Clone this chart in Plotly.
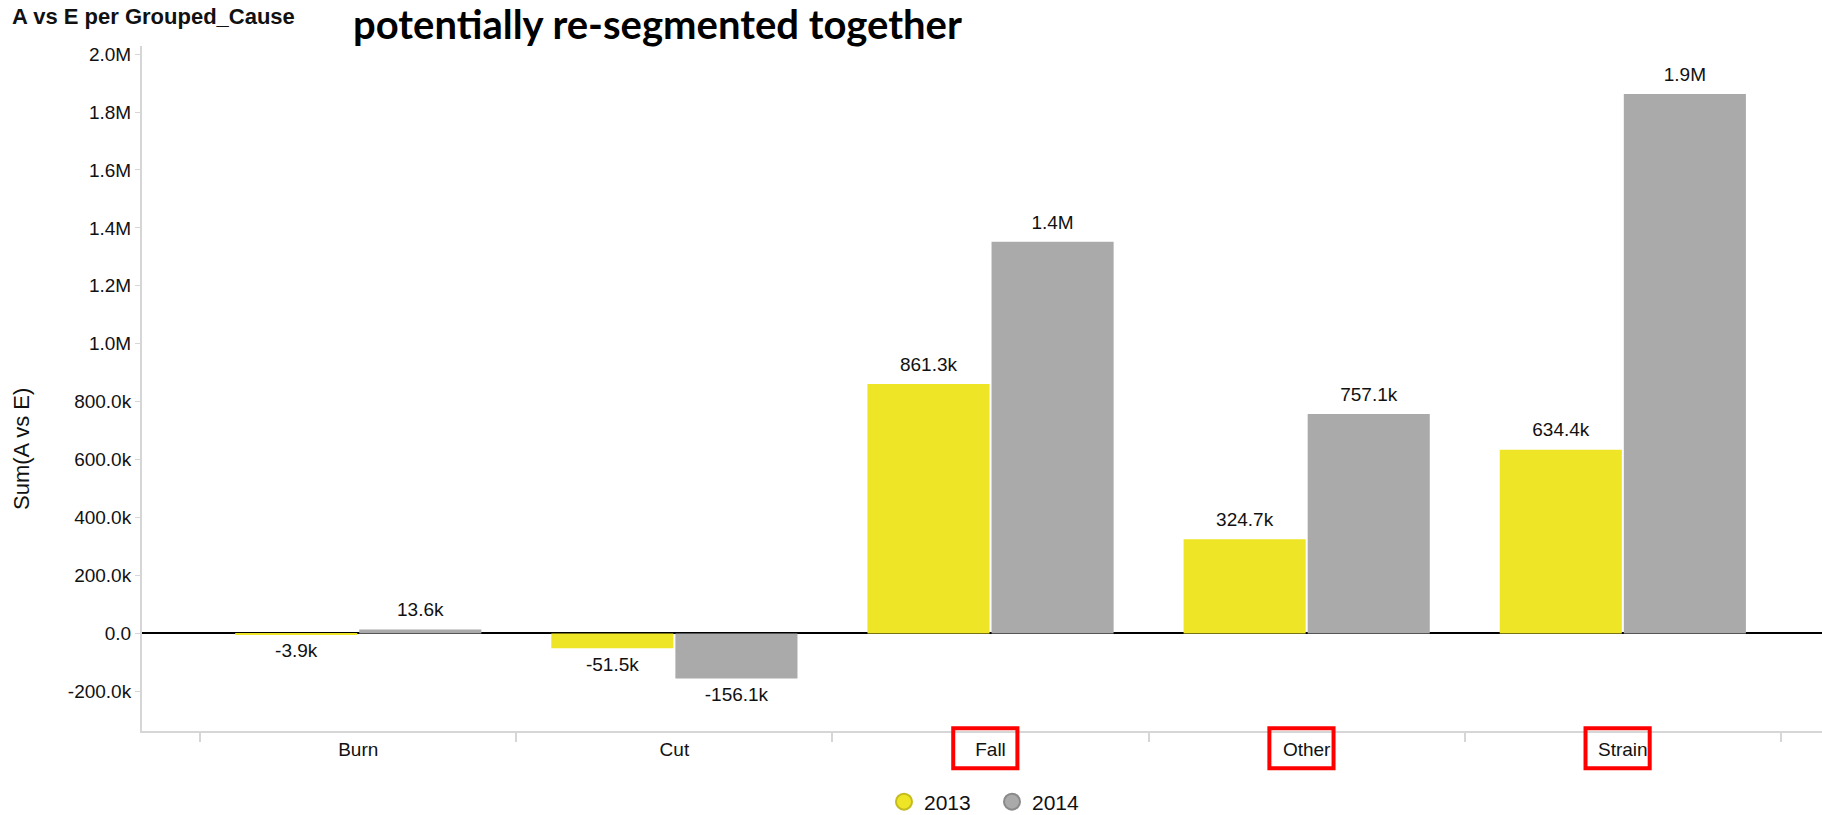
import plotly.graph_objects as go

# Sum of A vs E by grouped cause, per year
causes = ["Burn", "Cut", "Fall", "Other", "Strain"]
values_2013 = [-3_900, -51_500, 861_300, 324_700, 634_400]
values_2014 = [13_600, -156_100, 1_352_000, 757_100, 1_862_000]
highlighted = ["Fall", "Other", "Strain"]

y_tick_vals = [-200_000, 0, 200_000, 400_000, 600_000, 800_000, 1_000_000,
               1_200_000, 1_400_000, 1_600_000, 1_800_000, 2_000_000]

YELLOW = "#ede526"
GREY = "#aaaaaa"
FONT = "Liberation Sans, Arial, sans-serif"
GAP = 0.215


def short(v):
    if abs(v) >= 1_000_000:
        return f"{v / 1_000_000:.1f}M"
    if v == 0:
        return "0.0"
    return f"{v / 1_000:.1f}k"


fig = go.Figure()

series = [("2013", values_2013, YELLOW, "#c4bc1e"), ("2014", values_2014, GREY, "#8a8a8a")]

for name, vals, colour, edge in series:
    fig.add_trace(go.Bar(
        x=causes, y=vals, name=name, offsetgroup=name,
        marker=dict(color=colour, line=dict(width=0)),
        showlegend=False, hoverinfo="x+y",
    ))

# value labels, grouped the same way as the bars, offset by an invisible marker
for name, vals, colour, edge in series:
    fig.add_trace(go.Scatter(
        x=causes, y=vals, mode="markers+text", name=name,
        offsetgroup=name, legendgroup=name,
        marker=dict(size=12, opacity=0),
        text=[short(v) for v in vals],
        textposition=["top center" if v >= 0 else "bottom center" for v in vals],
        textfont=dict(family=FONT, size=19, color="#111111"),
        cliponaxis=False, showlegend=False, hoverinfo="skip",
    ))

# round legend swatches
for name, vals, colour, edge in series:
    fig.add_trace(go.Scatter(
        x=[None], y=[None], mode="markers", name=name,
        offsetgroup=name, legendgroup=name,
        marker=dict(symbol="circle", size=16, color=colour,
                    line=dict(color=edge, width=2)),
    ))

# red boxes around selected category labels
for c in highlighted:
    i = causes.index(c)
    fig.add_shape(type="rect", xref="x", yref="paper",
                  x0=i - 0.118, x1=i + 0.085, y0=0.004, y1=-0.0545,
                  line=dict(color="#ff0000", width=4))

fig.add_annotation(text="<b>A vs E per Grouped_Cause</b>", xref="paper", yref="paper",
                   x=(10 - 142) / 1680, y=(731 - 17) / 685, xanchor="left", yanchor="middle",
                   showarrow=False, font=dict(family=FONT, size=22, color="#111111"))
fig.add_annotation(text="<b>potentially re-segmented together</b>", xref="paper", yref="paper",
                   x=(351 - 142) / 1680, y=(731 - 24) / 685, xanchor="left", yanchor="middle",
                   showarrow=False, font=dict(family="Lato, sans-serif", size=40, color="#000000"))
fig.add_annotation(text="Sum(A vs E)", xref="paper", yref="paper",
                   x=(21 - 142) / 1680, y=(731 - 449) / 685, xanchor="center", yanchor="middle",
                   textangle=-90, showarrow=False,
                   font=dict(family=FONT, size=22, color="#111111"))

fig.update_layout(
    width=1822, height=815,
    margin=dict(l=142, r=0, t=46, b=84, autoexpand=False),
    paper_bgcolor="white", plot_bgcolor="white",
    barmode="group", bargap=GAP, bargroupgap=0.016,
    scattermode="group", scattergap=GAP,
    font=dict(family=FONT, size=19, color="#111111"),
    showlegend=True,
    legend=dict(orientation="h", x=(884 - 142) / 1680, xanchor="left",
                y=(731 - 802) / 685, yanchor="middle",
                font=dict(family=FONT, size=21, color="#111111"),
                entrywidth=63, entrywidthmode="pixels"),
    xaxis=dict(
        type="category", range=[-0.684, 4.63],
        showline=True, linecolor="#d6d6d6", linewidth=2,
        ticks="outside", tickson="boundaries", ticklen=9, tickcolor="#d6d6d6", tickwidth=2,
        tickfont=dict(family=FONT, size=19, color="#111111"),
        showgrid=False, zeroline=False, fixedrange=True,
    ),
    yaxis=dict(
        range=[-337_000, 2_028_000],
        tickvals=y_tick_vals, ticktext=[short(v) for v in y_tick_vals],
        showline=True, linecolor="#d6d6d6", linewidth=2,
        ticks="outside", ticklen=5, tickcolor="#d6d6d6", tickwidth=1,
        tickfont=dict(family=FONT, size=19, color="#111111"),
        showgrid=False, zeroline=True, zerolinecolor="#000000", zerolinewidth=1.5,
        fixedrange=True,
    ),
)

fig.write_html("out.html")
